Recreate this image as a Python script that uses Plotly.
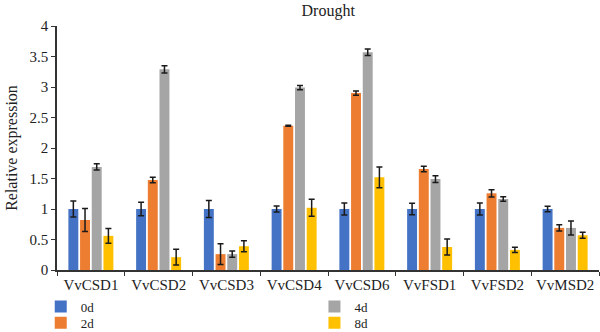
import plotly.graph_objects as go

genes = ["VvCSD1", "VvCSD2", "VvCSD3", "VvCSD4", "VvCSD6", "VvFSD1", "VvFSD2", "VvMSD2"]
series_names = ["0d", "2d", "4d", "8d"]

v0d = [1.00, 1.00, 1.00, 1.00, 1.00, 1.00, 1.00, 1.00]
e0d = [0.13, 0.11, 0.14, 0.05, 0.10, 0.095, 0.10, 0.045]
v2d = [0.82, 1.475, 0.26, 2.365, 2.90, 1.656, 1.257, 0.69]
e2d = [0.19, 0.045, 0.17, 0.01, 0.035, 0.045, 0.06, 0.05]
v4d = [1.69, 3.29, 0.26, 2.99, 3.57, 1.49, 1.164, 0.69]
e4d = [0.05, 0.06, 0.05, 0.035, 0.055, 0.055, 0.035, 0.115]
v8d = [0.56, 0.21, 0.39, 1.02, 1.52, 0.377, 0.33, 0.57]
e8d = [0.12, 0.13, 0.09, 0.14, 0.17, 0.13, 0.045, 0.05]

colors = ["#4472C4", "#ED7D31", "#A5A5A5", "#FFC000"]
values = [v0d, v2d, v4d, v8d]
errors = [e0d, e2d, e4d, e8d]
legends = ["legend", "legend2", "legend3", "legend4"]

FONT = "Liberation Serif"

fig = go.Figure()
for name, vals, errs, col, lg in zip(series_names, values, errors, colors, legends):
    fig.add_trace(go.Bar(
        x=genes, y=vals, name=name, marker=dict(color=col, line=dict(width=0)),
        error_y=dict(type="data", array=errs, visible=True, color="#1a1a1a", thickness=1.5, width=3),
        legend=lg,
    ))

def leg(x, y):
    return dict(x=x, y=y, xanchor="left", yanchor="middle", orientation="v",
                font=dict(family=FONT, size=13), itemwidth=30, tracegroupgap=0,
                bgcolor="rgba(0,0,0,0)")

fig.update_layout(
    width=600, height=332,
    margin=dict(l=57, r=1, t=26, b=62, autoexpand=False),
    paper_bgcolor="white", plot_bgcolor="white",
    font=dict(family=FONT, size=15, color="#222222"),
    title=dict(text="Drought", x=0.547, xanchor="center", y=0.985, yanchor="top",
               font=dict(family=FONT, size=16, color="#222222")),
    barmode="group", bargap=0.31, bargroupgap=0.15,
    showlegend=True,
    legend=leg(-0.03, -0.15),
    legend2=leg(-0.03, -0.216),
    legend3=leg(0.475, -0.15),
    legend4=leg(0.475, -0.216),
)
fig.update_yaxes(
    range=[0, 4], dtick=0.5, showgrid=False, zeroline=False,
    showline=True, linecolor="#333333", linewidth=1.5,
    ticks="outside", ticklen=4, tickcolor="#333333", tickwidth=1.2,
    tickfont=dict(family=FONT, size=15),
    title=dict(text="Relative expression", font=dict(family=FONT, size=16), standoff=8),
)
fig.update_xaxes(
    showgrid=False, showline=True, linecolor="#333333", linewidth=1.5,
    ticks="outside", ticklen=4, tickcolor="#333333", tickwidth=1.2, tickson="boundaries",
    tickfont=dict(family=FONT, size=15),
)

fig.write_html("out.html")
